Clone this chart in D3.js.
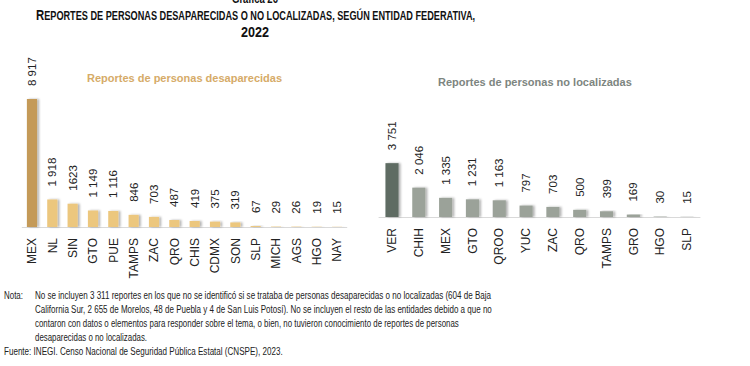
<!DOCTYPE html>
<html>
<head>
<meta charset="utf-8">
<script src="https://cdn.jsdelivr.net/npm/d3@7"></script>
<style>
  body { margin: 0; background: #fff; }
  svg { display: block; }
</style>
</head>
<body>
<svg id="chart" width="750" height="366"></svg>
<script>
// data
const desapCats = ["MEX", "NL", "SIN", "GTO", "PUE", "TAMPS", "ZAC", "QRO", "CHIS", "CDMX", "SON", "SLP", "MICH", "AGS", "HGO", "NAY"];
const desapVals = [8917, 1918, 1623, 1149, 1116, 846, 703, 487, 419, 375, 319, 67, 29, 26, 19, 15];
// labels as printed (the source writes SIN without the thousands space)
const desapLabels = ["8 917", "1 918", "1623", "1 149", "1 116", "846", "703", "487", "419", "375", "319", "67", "29", "26", "19", "15"];
const noLocCats = ["VER", "CHIH", "MEX", "GTO", "QROO", "YUC", "ZAC", "QRO", "TAMPS", "GRO", "HGO", "SLP"];
const noLocVals = [3751, 2046, 1335, 1231, 1163, 797, 703, 500, 399, 169, 30, 15];
const noLocLabels = ["3 751", "2 046", "1 335", "1 231", "1 163", "797", "703", "500", "399", "169", "30", "15"];

const notaLines = [
  "No se incluyen 3 311 reportes en los que no se identificó si se trataba de personas desaparecidas o no localizadas (604 de Baja",
  "California Sur, 2 655 de Morelos, 48 de Puebla y 4 de San Luis Potosí). No se incluyen el resto de las entidades debido a que no",
  "contaron con datos o elementos para responder sobre el tema, o bien, no tuvieron conocimiento de reportes de personas",
  "desaparecidas o no localizadas."
];
const fuente = "Fuente: INEGI. Censo Nacional de Seguridad Pública Estatal (CNSPE), 2023.";

const svg = d3.select("svg#chart");
const arial = "'Liberation Sans', Arial, sans-serif";

// squeeze a text horizontally so it spans [x0, x1] (reference uses a narrow face)
function fit(sel, x0, x1) {
  const w = sel.node().getComputedTextLength();
  const k = (x1 - x0) / w;
  sel.attr("transform", `translate(${x0},0) scale(${k},1)`).attr("x", 0);
}

// soft shadow on bars
svg.append("defs").append("filter").attr("id", "shadow")
  .attr("x", "-50%").attr("y", "-20%").attr("width", "200%").attr("height", "140%")
  .append("feDropShadow")
  .attr("dx", 2).attr("dy", 0).attr("stdDeviation", 1.3)
  .attr("flood-color", "#000").attr("flood-opacity", 0.3);

// title (top line is cut off in the reference)
const g0 = svg.append("text").attr("y", 3)
  .style("font-family", arial).style("font-weight", "bold").style("font-size", "12px")
  .attr("fill", "#111").text("Gráfica 26");
fit(g0, 232, 278);

const t1 = svg.append("text").attr("y", 20)
  .style("font-family", arial).style("font-weight", "bold").attr("fill", "#111");
t1.append("tspan").style("font-size", "15.5px").text("R");
t1.append("tspan").style("font-size", "12.5px")
  .text("EPORTES DE PERSONAS DESAPARECIDAS O NO LOCALIZADAS, SEGÚN ENTIDAD FEDERATIVA,");
fit(t1, 36, 476);
const t2 = svg.append("text").attr("y", 37)
  .style("font-family", arial).style("font-weight", "bold").style("font-size", "15.5px")
  .attr("fill", "#111").text("2022");
fit(t2, 241, 269);

// one panel of bars
function panel(cats, vals, labels, opt) {
  const x = d3.scaleBand().domain(cats).range(opt.xr).paddingInner(opt.pad).paddingOuter(opt.pad / 2);
  const y = d3.scaleLinear().domain([0, 8917]).range([opt.base, opt.base - 128]);
  const g = svg.append("g");

  g.append("line").attr("x1", opt.xr[0]).attr("x2", opt.xr[1])
    .attr("y1", opt.base + 0.5).attr("y2", opt.base + 0.5)
    .attr("stroke", "#d9d9d9").attr("stroke-width", 1);

  g.selectAll("rect").data(vals).enter().append("rect")
    .attr("x", (d, i) => x(cats[i]))
    .attr("width", x.bandwidth())
    .attr("y", d => y(d))
    .attr("height", d => opt.base - y(d))
    .attr("fill", (d, i) => i === 0 ? opt.first : opt.fill)
    .attr("filter", "url(#shadow)");

  g.selectAll("text.val").data(vals).enter().append("text")
    .attr("class", "val")
    .attr("transform", (d, i) => `translate(${x(cats[i]) + x.bandwidth() / 2},${y(d) - 13}) rotate(-90)`)
    .attr("dy", "0.35em")
    .style("font-family", arial).style("font-size", "11.5px").attr("fill", "#222")
    .text((d, i) => labels[i]);

  g.selectAll("text.cat").data(cats).enter().append("text")
    .attr("class", "cat")
    .attr("text-anchor", "end")
    .attr("transform", d => `translate(${x(d) + x.bandwidth() / 2},${opt.base + 11}) rotate(-90)`)
    .attr("dy", "0.35em")
    .style("font-family", arial).style("font-size", "12px").attr("fill", "#222")
    .text(d => d);

  svg.append("text").attr("x", opt.tx).attr("y", opt.ty)
    .style("font-family", arial).style("font-weight", "bold").style("font-size", "11px")
    .attr("fill", opt.tc).text(opt.title);
}

panel(desapCats, desapVals, desapLabels, {
  xr: [21.8, 347.2], pad: 0.5, base: 227,
  first: "#c49a58", fill: "#ecc77e",
  tx: 87, ty: 82, tc: "#d6ab68", title: "Reportes de personas desaparecidas"
});

panel(noLocCats, noLocVals, noLocLabels, {
  xr: [378.6, 700.4], pad: 0.51, base: 217,
  first: "#5f6c64", fill: "#9ba299",
  tx: 438, ty: 86, tc: "#7d8580", title: "Reportes de personas no localizadas"
});

// notes
const noteFont = s => s.style("font-family", arial).style("font-size", "11.5px").attr("fill", "#222");
const nota = svg.append("text").attr("y", 299).call(noteFont).text("Nota:");
fit(nota, 4, 23);
const ends = [492, 492, 459, 147];
notaLines.forEach((line, i) => {
  const t = svg.append("text").attr("y", 299 + i * 14).call(noteFont).text(line);
  fit(t, 35, ends[i]);
});
const f = svg.append("text").attr("y", 355).call(noteFont).text(fuente);
fit(f, 4, 283);
</script>
</body>
</html>
